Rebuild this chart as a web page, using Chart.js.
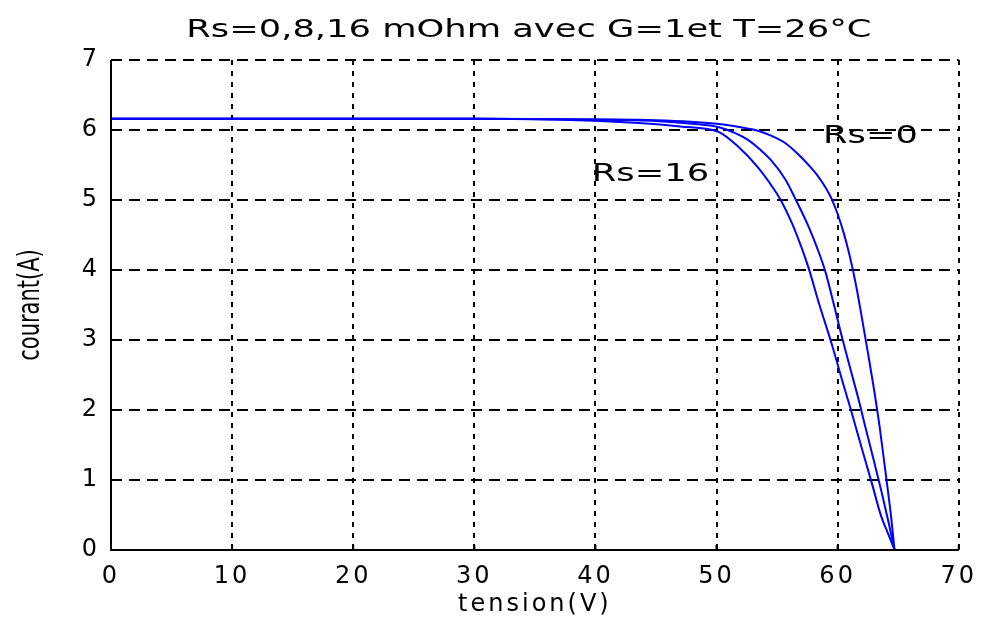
<!DOCTYPE html>
<html>
<head>
<meta charset="utf-8">
<title>Rs courbes I-V</title>
<script src="https://cdn.jsdelivr.net/npm/chart.js@4.4.0/dist/chart.umd.min.js"></script>
<style>
  html, body { margin: 0; padding: 0; background: #fff; }
  #wrap { width: 986px; height: 624px; }
</style>
</head>
<body>
<div id="wrap"><canvas id="ivChart"></canvas></div>
<script>
// texts
const chartTitle = 'Rs=0,8,16 mOhm avec G=1et T=26°C';
const xTitle = 'tension(V)';
const yTitle = 'courant(A)';
const xTicks = [0, 10, 20, 30, 40, 50, 60, 70];
const yTicks = [0, 1, 2, 3, 4, 5, 6, 7];

// Rs = 0
const v0 = [0, 10, 20, 30, 40, 45, 50, 52, 53.2, 54.5, 55.7, 56.7, 57.6, 58.3, 59.0, 59.5, 60.0, 60.5, 61.0, 61.5, 62.0, 62.5, 63.0, 63.5, 64.0, 64.4, 64.7];
const i0 = [6.16, 6.16, 6.16, 6.16, 6.15, 6.14, 6.09, 6.04, 6.00, 5.92, 5.81, 5.66, 5.50, 5.36, 5.18, 5.02, 4.80, 4.53, 4.20, 3.80, 3.32, 2.82, 2.30, 1.72, 1.05, 0.50, 0];

// Rs = 8
const v8 = [0, 10, 20, 30, 40, 45, 48, 50.2, 51.5, 52.6, 53.6, 54.5, 55.7, 56.5, 57.6, 58.3, 59.0, 59.7, 60.3, 61.0, 61.7, 62.3, 63.0, 63.6, 64.2, 64.7];
const i8 = [6.16, 6.16, 6.16, 6.16, 6.15, 6.13, 6.09, 6.04, 5.96, 5.86, 5.72, 5.57, 5.29, 5.02, 4.62, 4.32, 3.97, 3.50, 3.08, 2.62, 2.17, 1.75, 1.27, 0.85, 0.40, 0];

// Rs = 16
const v16 = [0, 10, 20, 30, 38.6, 43.6, 47, 50.2, 51.8, 53.4, 54.8, 55.3, 56.2, 57.0, 57.6, 58.5, 59.5, 60.5, 61.1, 62.0, 62.8, 63.6, 64.2, 64.7];
const i16 = [6.16, 6.16, 6.16, 6.16, 6.14, 6.10, 6.05, 5.97, 5.76, 5.47, 5.14, 5.00, 4.68, 4.33, 4.03, 3.50, 2.95, 2.35, 2.00, 1.45, 0.97, 0.48, 0.22, 0];

// curve labels, placed in data units
const curveLabels = ['Rs=0', 'Rs=16'];
const curveLabelX = [58.8, 39.7];
const curveLabelY = [5.91, 5.36];

function toPoints(xs, ys) {
    return xs.map((v, k) => ({ x: v, y: ys[k] }));
}

function curve(name, xs, ys) {
    return {
        label: name,
        data: toPoints(xs, ys),
        showLine: true,
        borderColor: '#0000ff',
        borderWidth: 2,
        pointRadius: 0,
        cubicInterpolationMode: 'monotone',
        fill: false
    };
}

// the reference text is wide, so space the library's own labels out a bit
const spacing = {
    id: 'spacing',
    beforeDraw(chart) {
        chart.ctx.letterSpacing = '3px';
    }
};

// solid left/bottom axes and short tick marks pointing into the plot
const axesAndTicks = {
    id: 'axesAndTicks',
    afterDraw(chart) {
        const { ctx, chartArea: a, scales: { x, y } } = chart;
        ctx.save();
        ctx.strokeStyle = '#000';
        ctx.lineWidth = 2;
        ctx.beginPath();
        ctx.moveTo(a.left, a.top);
        ctx.lineTo(a.left, a.bottom);
        ctx.lineTo(a.right, a.bottom);
        xTicks.forEach(v => {
            const px = x.getPixelForValue(v);
            ctx.moveTo(px, a.bottom);
            ctx.lineTo(px, a.bottom - 5);
        });
        yTicks.forEach(v => {
            const py = y.getPixelForValue(v);
            ctx.moveTo(a.left, py);
            ctx.lineTo(a.left + 5, py);
        });
        ctx.stroke();
        ctx.restore();
    }
};

// title, y title and curve labels, drawn wide like the reference
const wideText = {
    id: 'wideText',
    afterDraw(chart) {
        const { ctx, chartArea: a, scales: { x, y } } = chart;
        const put = (text, px, py, align) => {
            ctx.save();
            ctx.translate(px, py);
            ctx.scale(1.47, 1);
            ctx.textAlign = align;
            ctx.fillText(text, 0, 0);
            ctx.restore();
        };
        ctx.save();
        ctx.letterSpacing = '0px';
        ctx.fillStyle = '#000';
        ctx.font = '24px "DejaVu Sans"';
        ctx.textBaseline = 'middle';
        put(chartTitle, (a.left + a.right) / 2 - 6, 31, 'center');
        curveLabels.forEach((t, k) => {
            put(t, x.getPixelForValue(curveLabelX[k]), y.getPixelForValue(curveLabelY[k]), 'left');
        });

        // y axis title, rotated, stretched across the page like the rest
        ctx.save();
        ctx.font = '21px "DejaVu Sans"';
        ctx.translate(31, (a.top + a.bottom) / 2);
        ctx.rotate(-Math.PI / 2);
        ctx.scale(1, 1.4);
        ctx.textAlign = 'center';
        ctx.fillText(yTitle, 0, 0);
        ctx.restore();

        ctx.restore();
    }
};

const ctx = document.getElementById('ivChart').getContext('2d');

const chart = new Chart(ctx, {
    type: 'scatter',
    data: {
        datasets: [
            curve('Rs=0', v0, i0),
            curve('Rs=8', v8, i8),
            curve('Rs=16', v16, i16)
        ]
    },
    options: {
        responsive: true,
        maintainAspectRatio: false,
        animation: false,
        devicePixelRatio: 1,
        layout: { padding: { top: 60, right: 25, bottom: 0, left: 0 } },
        plugins: {
            legend: { display: false },
            tooltip: { enabled: false }
        },
        scales: {
            x: {
                type: 'linear',
                min: 0,
                max: 70,
                afterBuildTicks: s => { s.ticks = xTicks.map(v => ({ value: v })); },
                afterFit: s => { s.height = 74; },
                ticks: {
                    color: '#000',
                    padding: 12,
                    maxRotation: 0,
                    font: { family: '"DejaVu Sans"', size: 24 }
                },
                grid: { color: '#000', lineWidth: 2, drawTicks: false },
                border: { display: false, dash: [5, 6] },
                title: {
                    display: true,
                    text: xTitle,
                    color: '#000',
                    padding: { top: 0, bottom: 5 },
                    font: { family: '"DejaVu Sans"', size: 24 }
                }
            },
            y: {
                type: 'linear',
                min: 0,
                max: 7,
                afterBuildTicks: s => { s.ticks = yTicks.map(v => ({ value: v })); },
                afterFit: s => { s.width = 111; },
                ticks: {
                    color: '#000',
                    padding: 11,
                    font: { family: '"DejaVu Sans"', size: 24 }
                },
                grid: { color: '#000', lineWidth: 2, drawTicks: false },
                border: { display: false, dash: [11, 7] },
                title: { display: false, text: yTitle }
            }
        }
    },
    plugins: [spacing, axesAndTicks, wideText]
});
</script>
</body>
</html>
